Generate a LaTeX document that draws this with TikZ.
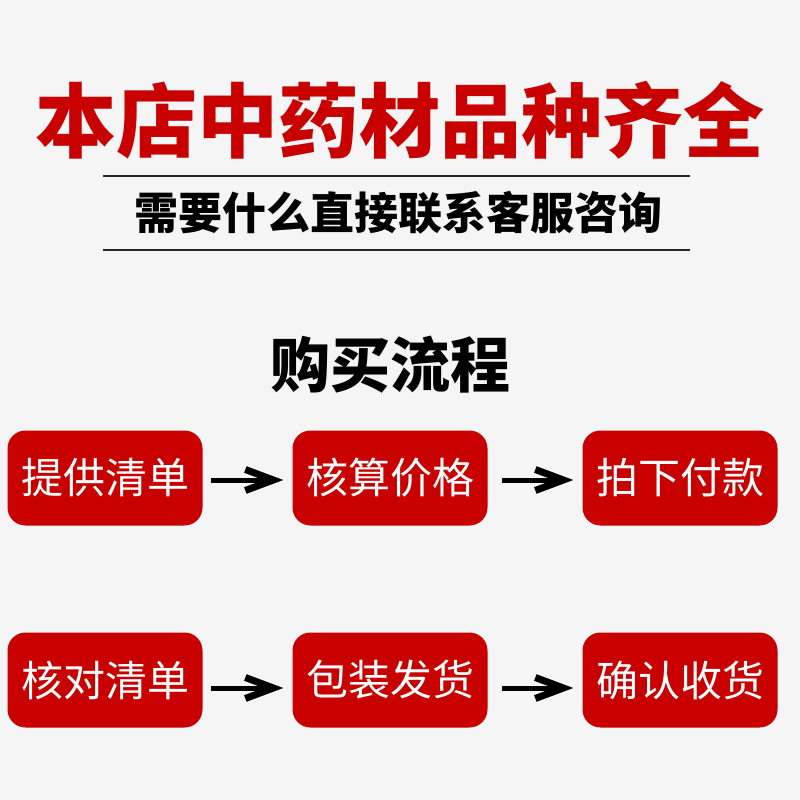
\documentclass[tikz,border=0pt]{standalone}
\usepackage{fontspec}
\newfontfamily\cjk{Noto Sans CJK SC}
\usetikzlibrary{arrows.meta}
\definecolor{shopred}{HTML}{C80000}
\definecolor{bgray}{HTML}{F5F5F5}
\begin{document}
\begin{tikzpicture}[x=1pt,y=-1pt,
        stepbox/.style={fill=shopred,rounded corners=18pt,minimum width=195pt,
            minimum height=95pt,text=white,font=\cjk\fontsize{42}{42}\selectfont},
        flowarrow/.style={line width=5pt,-{Straight Barb[length=28pt,width=21pt,line width=7pt]},
            shorten <=8pt,shorten >=9pt}]
                \fill[bgray] (0,0) rectangle (800,800);
                \node[text=shopred,font=\cjk\bfseries\fontsize{81}{81}\selectfont]
                    (title) at (400,120) {本店中药材品种齐全};
                \draw[line width=2pt,black!85]
                    (103,176) -- (690,176)
                    (103,250) -- (690,250);
                \node[font=\cjk\bfseries\fontsize{44}{44}\selectfont]
                    (sub) at (398,213) {需要什么直接联系客服咨询};
                \node[font=\cjk\bfseries\fontsize{60}{60}\selectfont]
                    (head) at (390,365) {购买流程};
                % first row
                \node[stepbox] (b1) at (105,478) {提供清单};
                \node[stepbox] (b2) at (390,478) {核算价格};
                \node[stepbox] (b3) at (680,478) {拍下付款};
                % second row
                \node[stepbox] (b4) at (105,680) {核对清单};
                \node[stepbox] (b5) at (390,680) {包装发货};
                \node[stepbox] (b6) at (680,680) {确认收货};
                \draw[flowarrow] ([yshift=-2pt]b1.east) -- ([yshift=-2pt]b2.west);
                \draw[flowarrow,shorten <=14pt] ([yshift=-2pt]b2.east) -- ([yshift=-2pt]b3.west);
                \draw[flowarrow] ([yshift=-8pt]b4.east) -- ([yshift=-8pt]b5.west);
                \draw[flowarrow,shorten <=14pt] ([yshift=-8pt]b5.east) -- ([yshift=-8pt]b6.west);
\end{tikzpicture}
\end{document}
